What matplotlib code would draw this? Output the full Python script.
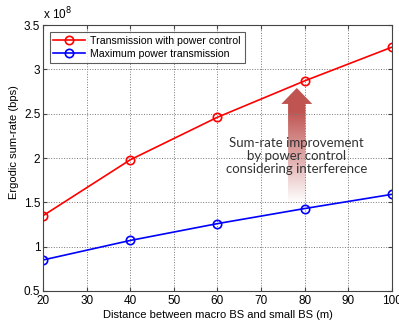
import numpy as np
import matplotlib
matplotlib.use('Agg')
import matplotlib.pyplot as plt
from matplotlib.path import Path
from matplotlib.patches import PathPatch

# data (bps)
distance = [20, 40, 60, 80, 100]
rate_pc = [1.35e8, 1.98e8, 2.46e8, 2.87e8, 3.25e8]
rate_max = [0.85e8, 1.07e8, 1.26e8, 1.43e8, 1.59e8]
labels = ['Transmission with power control', 'Maximum power transmission']
note = 'Sum-rate improvement\nby power control\nconsidering interference'

plt.rcParams['font.family'] = ['Liberation Sans', 'DejaVu Sans']

fig = plt.figure(figsize=(3.99, 3.21), dpi=100)
ax = fig.add_axes([0.108, 0.0935, 0.874, 0.8285])

scale = 1e8
ax.plot(distance, np.array(rate_pc) / scale, '-o', color='red', lw=1.2,
        mfc='none', mec='red', ms=6, mew=1.2, label=labels[0])
ax.plot(distance, np.array(rate_max) / scale, '-o', color='blue', lw=1.2,
        mfc='none', mec='blue', ms=6, mew=1.2, label=labels[1])

ax.set_xlim(20, 100)
ax.set_ylim(0.5, 3.5)
ax.set_xticks(range(20, 101, 10))
ax.set_yticks(np.arange(0.5, 3.51, 0.5))
ax.set_yticklabels(['0.5', '1', '1.5', '2', '2.5', '3', '3.5'])
ax.grid(True, ls=':', color='#777777', lw=0.7)
ax.tick_params(direction='in', labelsize=8.5, top=True, right=True, length=3,
               color='#444444', pad=2)
ax.tick_params(axis='x', pad=3)
for s in ax.spines.values():
    s.set_color('#444444')
ax.set_xlabel('Distance between macro BS and small BS (m)', fontsize=8, labelpad=2)
ax.set_ylabel('Ergodic sum-rate (bps)', fontsize=8, labelpad=2)
ax.yaxis.set_label_coords(-0.068, 0.56)
ax.text(0.0, 1.012, r'x 10$^8$', transform=ax.transAxes, fontsize=8.5, va='bottom', ha='left')

leg = ax.legend(loc='upper left', fontsize=7.6, frameon=True, fancybox=False,
                edgecolor='#333333', borderpad=0.35, handlelength=3.0,
                labelspacing=0.3, handletextpad=0.5, bbox_to_anchor=(0.004, 0.993))
leg.get_frame().set_linewidth(0.8)

# gradient arrow (data coords)
arr_x, arr_tail, arr_tip = 78.2, 1.45, 2.79
shaft_w, head_w, head_len = 4.0, 7.1, 0.18
verts = [(arr_x - shaft_w / 2, arr_tail), (arr_x - shaft_w / 2, arr_tip - head_len),
         (arr_x - head_w / 2, arr_tip - head_len), (arr_x, arr_tip),
         (arr_x + head_w / 2, arr_tip - head_len), (arr_x + shaft_w / 2, arr_tip - head_len),
         (arr_x + shaft_w / 2, arr_tail), (arr_x - shaft_w / 2, arr_tail)]
clip = PathPatch(Path(verts, closed=True), facecolor='none', edgecolor='none', transform=ax.transData)
ax.add_patch(clip)
grad = np.clip(np.linspace(-0.05, 1.25, 256), 0, 1).reshape(-1, 1)
top_c = np.array([0.75, 0.33, 0.32])
cols = np.ones((256, 1, 3)) * (1 - grad[..., None]) + top_c * grad[..., None]
im = ax.imshow(cols, extent=[arr_x - head_w / 2, arr_x + head_w / 2, arr_tail, arr_tip],
               origin='lower', aspect='auto', zorder=1.5)
im.set_clip_path(clip)

ax.text(78.2, 2.02, note, ha='center', va='center', fontsize=9.5,
        family=['Lato', 'DejaVu Sans'], color='#333333', linespacing=1.1, zorder=3)

ax.set_xlim(20, 100)
ax.set_ylim(0.5, 3.5)
fig.savefig('out.png', dpi=100)
